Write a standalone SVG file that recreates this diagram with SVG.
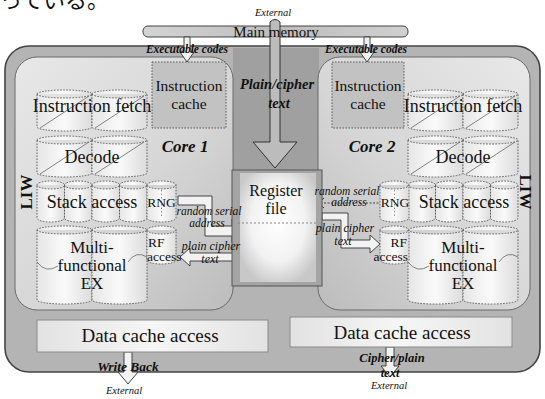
<svg xmlns="http://www.w3.org/2000/svg" width="545" height="399" viewBox="0 0 545 399">
  <defs>
    <linearGradient id="panelL" x1="0" y1="0" x2="1" y2="1">
      <stop offset="0" stop-color="#e8e8e8"/>
      <stop offset="0.55" stop-color="#d6d6d6"/>
      <stop offset="1" stop-color="#bcbcbc"/>
    </linearGradient>
    <linearGradient id="panelR" x1="1" y1="0" x2="0" y2="1">
      <stop offset="0" stop-color="#e8e8e8"/>
      <stop offset="0.55" stop-color="#d6d6d6"/>
      <stop offset="1" stop-color="#bcbcbc"/>
    </linearGradient>
    <linearGradient id="cyl" x1="0" y1="0" x2="1" y2="0">
      <stop offset="0" stop-color="#e6e6e6"/>
      <stop offset="0.5" stop-color="#fafafa"/>
      <stop offset="1" stop-color="#dcdcdc"/>
    </linearGradient>
    <linearGradient id="dcache" x1="0" y1="0" x2="1" y2="0">
      <stop offset="0" stop-color="#e2e2e2"/>
      <stop offset="0.5" stop-color="#f6f6f6"/>
      <stop offset="1" stop-color="#e2e2e2"/>
    </linearGradient>
    <radialGradient id="regfill" cx="0.5" cy="0.45" r="0.6">
      <stop offset="0" stop-color="#ffffff"/>
      <stop offset="0.6" stop-color="#f2f2f2"/>
      <stop offset="1" stop-color="#c8c8c8"/>
    </radialGradient>
    <linearGradient id="membar" x1="0" y1="0" x2="1" y2="0">
      <stop offset="0" stop-color="#d4d4d4"/>
      <stop offset="0.5" stop-color="#bdbdbd"/>
      <stop offset="1" stop-color="#d0d0d0"/>
    </linearGradient>
  </defs>
  <style>
    .serif { font-family: "Liberation Serif", "Times New Roman", serif; fill: #111; }
    .big { font-size: 18px; }
    .ex { font-size: 17px; }
    .mid { font-size: 15.5px; }
    .sm { font-size: 13.5px; }
    .ib { font-style: italic; font-weight: bold; }
    .it { font-style: italic; }
    .c { text-anchor: middle; }
    .cylb { fill: url(#cyl); stroke: #555; stroke-width: 0.9; stroke-dasharray: 1.6 1.4; }
    .diag { fill: none; stroke: #666; stroke-width: 0.8; }
    .box { fill: #c2c2c2; stroke: #555; stroke-width: 0.9; stroke-dasharray: 1.6 1.4; }
    .harrow { fill: #f2f2f2; stroke: #333; stroke-width: 0.9; }
    .garrow { fill: #bcbcbc; stroke: #333; stroke-width: 1; }
  </style>

  <!-- page text running above the figure -->
  <text x="0" y="8" style="font-family: 'Noto Sans CJK JP', sans-serif; font-size: 22px; fill: #111;">っている。</text>

  <!-- processor background -->
  <g id="chip">
    <rect x="5" y="46" width="535" height="326" rx="24" fill="#b4b4b4" stroke="#444" stroke-width="1.6"/>
    <rect x="233" y="48" width="86" height="122" fill="#a0a0a0"/>
  </g>

  <!-- core panels -->
  <g id="core1">
    <rect x="15" y="57" width="218" height="253" rx="22" fill="url(#panelL)" stroke="#6a6a6a" stroke-width="1"/>
    <text x="185" y="152" class="serif ib c" font-size="17">Core 1</text>
    <text transform="translate(32 192) rotate(-90)" class="serif c" font-size="17" font-weight="bold">LIW</text>
  </g>
  <g id="core2">
    <rect x="318" y="57" width="212" height="253" rx="22" fill="url(#panelR)" stroke="#6a6a6a" stroke-width="1"/>
    <text x="372" y="152" class="serif ib c" font-size="17">Core 2</text>
    <text transform="translate(520 192) rotate(90)" class="serif c" font-size="17" font-weight="bold">LIW</text>
  </g>

  <!-- main memory -->
  <g id="main-memory">
    <rect x="143" y="26" width="265" height="11" rx="5" fill="url(#membar)" stroke="#444" stroke-width="1"/>
  </g>

  <!-- connectors -->
  <g id="connectors">
    <!-- external to register file (plain/cipher text) -->
    <path class="garrow" d="M270,22 Q275,17 280,22 V142 H297 L275,168 L253,142 H270 Z"/>
    <!-- executable codes into each core -->
    <path class="harrow" d="M184,37 H190 V52 H194 L187,62 L180,52 H184 Z"/>
    <path class="harrow" d="M364,37 H370 V52 H374 L367,62 L360,52 H364 Z"/>
    <!-- core 1: random serial address to register file -->
    <path class="harrow" d="M178,196 H212 V226 H232 V219 L241,231 L232,243 V236 H205 V205 H178 Z"/>
    <!-- core 1: plain/cipher text from register file to RF access -->
    <path class="harrow" d="M240,253 H190 V248 L180,257 L190,266 V261 H240 Z"/>
    <!-- core 2: random serial address to register file -->
    <path d="M382,203 H321" fill="none" stroke="#333" stroke-width="0.9" stroke-dasharray="2 1.5"/>
    <path d="M324,198 L318,203 L324,208" fill="none" stroke="#333" stroke-width="1"/>
    <!-- core 2: plain/cipher text from register file to RF access -->
    <path class="harrow" d="M322,213 H348 V240 H370 V235 L380,244 L370,253 V248 H341 V220 H322 Z"/>
    <!-- write back / cipher-plain text to external -->
    <path class="harrow" d="M124,352 H132 V372 H138 L128,384 L118,372 H124 Z"/>
    <path class="harrow" d="M386,347 H394 V366 H399 L390,377 L381,366 H386 Z"/>
  </g>

  <!-- labels on memory / external paths -->
  <g id="memory-labels">
    <text x="273" y="16" class="serif it c" font-size="10.5">External</text>
    <text x="276" y="37" class="serif c" font-size="15">Main memory</text>
    <text x="187" y="53" class="serif ib c" font-size="11.5">Executable codes</text>
    <text x="366" y="53" class="serif ib c" font-size="11.5">Executable codes</text>
    <text x="277" y="89" class="serif ib c" font-size="14.5">Plain/cipher</text>
    <text x="279" y="108" class="serif ib c" font-size="14.5">text</text>
  </g>

  <!-- register file -->
  <g id="register-file">
    <rect x="232" y="170" width="90" height="116" fill="#a4a4a4" stroke="#555" stroke-width="1"/>
    <rect x="240" y="173" width="76" height="109" fill="url(#regfill)"/>
    <line x1="238" y1="223" x2="318" y2="223" stroke="#888" stroke-width="1" stroke-dasharray="2 2"/>
    <text x="276" y="196" class="serif c" font-size="16">Register</text>
    <text x="276" y="214" class="serif c" font-size="16">file</text>
  </g>

  <!-- core 1 pipeline -->
  <g id="icache-1">
    <rect class="box" x="152" y="62" width="74" height="66"/>
    <text x="189" y="91" class="serif mid c">Instruction</text>
    <text x="189" y="109" class="serif mid c">cache</text>
  </g>
  <g id="ifetch-1">
    <path class="cylb" d="M37,94 A27.5,4 0 0 1 92,94 V127 A27.5,4 0 0 1 37,127 Z M37,94 A27.5,4 0 0 0 92,94"/>
    <path class="cylb" d="M92,94 A27.5,4 0 0 1 147,94 V127 A27.5,4 0 0 1 92,127 Z M92,94 A27.5,4 0 0 0 147,94"/>
    <path class="diag" d="M40,128 L89,96 M95,128 L144,96"/>
    <text x="92" y="112" class="serif big c">Instruction fetch</text>
  </g>
  <g id="decode-1">
    <path class="cylb" d="M37,140 A27.5,4 0 0 1 92,140 V173 A27.5,4 0 0 1 37,173 Z M37,140 A27.5,4 0 0 0 92,140"/>
    <path class="cylb" d="M92,140 A27.5,4 0 0 1 147,140 V173 A27.5,4 0 0 1 92,173 Z M92,140 A27.5,4 0 0 0 147,140"/>
    <path class="diag" d="M40,174 L89,142 M95,174 L144,142"/>
    <text x="92" y="163" class="serif big c">Decode</text>
  </g>
  <g id="stack-1">
    <path class="cylb" d="M37,185 A13.75,4 0 0 1 64.5,185 V218 A13.75,4 0 0 1 37,218 Z M37,185 A13.75,4 0 0 0 64.5,185"/>
    <path class="cylb" d="M64.5,185 A13.75,4 0 0 1 92,185 V218 A13.75,4 0 0 1 64.5,218 Z M64.5,185 A13.75,4 0 0 0 92,185"/>
    <path class="cylb" d="M92,185 A13.75,4 0 0 1 119.5,185 V218 A13.75,4 0 0 1 92,218 Z M92,185 A13.75,4 0 0 0 119.5,185"/>
    <path class="cylb" d="M119.5,185 A13.75,4 0 0 1 147,185 V218 A13.75,4 0 0 1 119.5,218 Z M119.5,185 A13.75,4 0 0 0 147,185"/>
    <text x="92" y="208" class="serif big c">Stack access</text>
  </g>
  <g id="rng-1">
    <path class="cylb" d="M147,185 A14.5,4 0 0 1 176,185 V218 A14.5,4 0 0 1 147,218 Z M147,185 A14.5,4 0 0 0 176,185"/>
    <line x1="161.5" y1="190" x2="161.5" y2="218" stroke="#777" stroke-width="0.8" stroke-dasharray="1.5 2"/>
    <text x="161.5" y="207" class="serif sm c">RNG</text>
  </g>
  <g id="ex-1">
    <path class="cylb" d="M37,230 A27.5,4 0 0 1 92,230 V300 A27.5,4 0 0 1 37,300 Z M37,230 A27.5,4 0 0 0 92,230"/>
    <path class="cylb" d="M92,230 A27.5,4 0 0 1 147,230 V300 A27.5,4 0 0 1 92,300 Z M92,230 A27.5,4 0 0 0 147,230"/>
    <path class="diag" d="M37,262 Q46,274 58,266 M147,257 Q136,250 128,262"/>
    <text x="92" y="253" class="serif ex c">Multi-</text>
    <text x="92" y="271" class="serif ex c">functional</text>
    <text x="92" y="289" class="serif ex c">EX</text>
  </g>
  <g id="rf-access-1">
    <path class="cylb" d="M147,230 A14.5,4 0 0 1 176,230 V260 A14.5,4 0 0 1 147,260 Z M147,230 A14.5,4 0 0 0 176,230"/>
    <text x="148" y="247" class="serif sm">RF</text>
    <text x="147" y="261" class="serif sm">access</text>
  </g>

  <!-- core 2 pipeline -->
  <g id="icache-2">
    <rect class="box" x="332" y="62" width="72" height="66"/>
    <text x="368" y="91" class="serif mid c">Instruction</text>
    <text x="368" y="109" class="serif mid c">cache</text>
  </g>
  <g id="ifetch-2">
    <path class="cylb" d="M408,94 A27.5,4 0 0 1 463,94 V127 A27.5,4 0 0 1 408,127 Z M408,94 A27.5,4 0 0 0 463,94"/>
    <path class="cylb" d="M463,94 A27.5,4 0 0 1 518,94 V127 A27.5,4 0 0 1 463,127 Z M463,94 A27.5,4 0 0 0 518,94"/>
    <path class="diag" d="M411,128 L460,96 M466,128 L515,96"/>
    <text x="463" y="112" class="serif big c">Instruction fetch</text>
  </g>
  <g id="decode-2">
    <path class="cylb" d="M408,140 A27.5,4 0 0 1 463,140 V173 A27.5,4 0 0 1 408,173 Z M408,140 A27.5,4 0 0 0 463,140"/>
    <path class="cylb" d="M463,140 A27.5,4 0 0 1 518,140 V173 A27.5,4 0 0 1 463,173 Z M463,140 A27.5,4 0 0 0 518,140"/>
    <path class="diag" d="M411,174 L460,142 M466,174 L515,142"/>
    <text x="463" y="163" class="serif big c">Decode</text>
  </g>
  <g id="stack-2">
    <path class="cylb" d="M408,185 A13.75,4 0 0 1 435.5,185 V218 A13.75,4 0 0 1 408,218 Z M408,185 A13.75,4 0 0 0 435.5,185"/>
    <path class="cylb" d="M435.5,185 A13.75,4 0 0 1 463,185 V218 A13.75,4 0 0 1 435.5,218 Z M435.5,185 A13.75,4 0 0 0 463,185"/>
    <path class="cylb" d="M463,185 A13.75,4 0 0 1 490.5,185 V218 A13.75,4 0 0 1 463,218 Z M463,185 A13.75,4 0 0 0 490.5,185"/>
    <path class="cylb" d="M490.5,185 A13.75,4 0 0 1 518,185 V218 A13.75,4 0 0 1 490.5,218 Z M490.5,185 A13.75,4 0 0 0 518,185"/>
    <text x="464" y="208" class="serif big c">Stack access</text>
  </g>
  <g id="rng-2">
    <path class="cylb" d="M380,185 A14.5,4 0 0 1 409,185 V218 A14.5,4 0 0 1 380,218 Z M380,185 A14.5,4 0 0 0 409,185"/>
    <line x1="394.5" y1="190" x2="394.5" y2="218" stroke="#777" stroke-width="0.8" stroke-dasharray="1.5 2"/>
    <text x="395" y="207" class="serif sm c">RNG</text>
  </g>
  <g id="ex-2">
    <path class="cylb" d="M408,230 A27.5,4 0 0 1 463,230 V300 A27.5,4 0 0 1 408,300 Z M408,230 A27.5,4 0 0 0 463,230"/>
    <path class="cylb" d="M463,230 A27.5,4 0 0 1 518,230 V300 A27.5,4 0 0 1 463,300 Z M463,230 A27.5,4 0 0 0 518,230"/>
    <path class="diag" d="M408,262 Q417,274 429,266 M518,257 Q507,250 499,262"/>
    <text x="463" y="253" class="serif ex c">Multi-</text>
    <text x="463" y="271" class="serif ex c">functional</text>
    <text x="463" y="289" class="serif ex c">EX</text>
  </g>
  <g id="rf-access-2">
    <path class="cylb" d="M380,230 A14.5,4 0 0 1 409,230 V260 A14.5,4 0 0 1 380,260 Z M380,230 A14.5,4 0 0 0 409,230"/>
    <text x="407" y="247" class="serif sm" text-anchor="end">RF</text>
    <text x="408" y="261" class="serif sm" text-anchor="end">access</text>
  </g>

  <!-- labels on the register file paths -->
  <g id="path-labels">
    <text x="209" y="215" class="serif it c" font-size="11.5">random serial</text>
    <text x="207" y="227" class="serif it c" font-size="11.5">address</text>
    <text x="211" y="250" class="serif it c" font-size="12">plain cipher</text>
    <text x="210" y="263" class="serif it c" font-size="12">text</text>
    <text x="347" y="195" class="serif it c" font-size="11.5">random serial</text>
    <text x="349" y="206" class="serif it c" font-size="11.5">address</text>
    <text x="345" y="232" class="serif it c" font-size="12">plain cipher</text>
    <text x="343" y="245" class="serif it c" font-size="12">text</text>
  </g>

  <!-- data caches -->
  <g id="dcache-1">
    <rect x="37" y="320" width="231" height="32" fill="url(#dcache)" stroke="#8a8a8a" stroke-width="1"/>
    <text x="150" y="342" class="serif c" font-size="19">Data cache access</text>
  </g>
  <g id="dcache-2">
    <rect x="290" y="317" width="222" height="30" fill="url(#dcache)" stroke="#8a8a8a" stroke-width="1"/>
    <text x="402" y="339" class="serif c" font-size="19">Data cache access</text>
  </g>

  <!-- external outputs -->
  <g id="outputs">
    <text x="128" y="371" class="serif ib c" font-size="13.5">Write Back</text>
    <text x="124" y="394" class="serif it c" font-size="10.5">External</text>
    <text x="392" y="362" class="serif ib c" font-size="12.5">Cipher/plain</text>
    <text x="390" y="377" class="serif ib c" font-size="12.5">text</text>
    <text x="389" y="389" class="serif it c" font-size="10.5">External</text>
  </g>
</svg>
